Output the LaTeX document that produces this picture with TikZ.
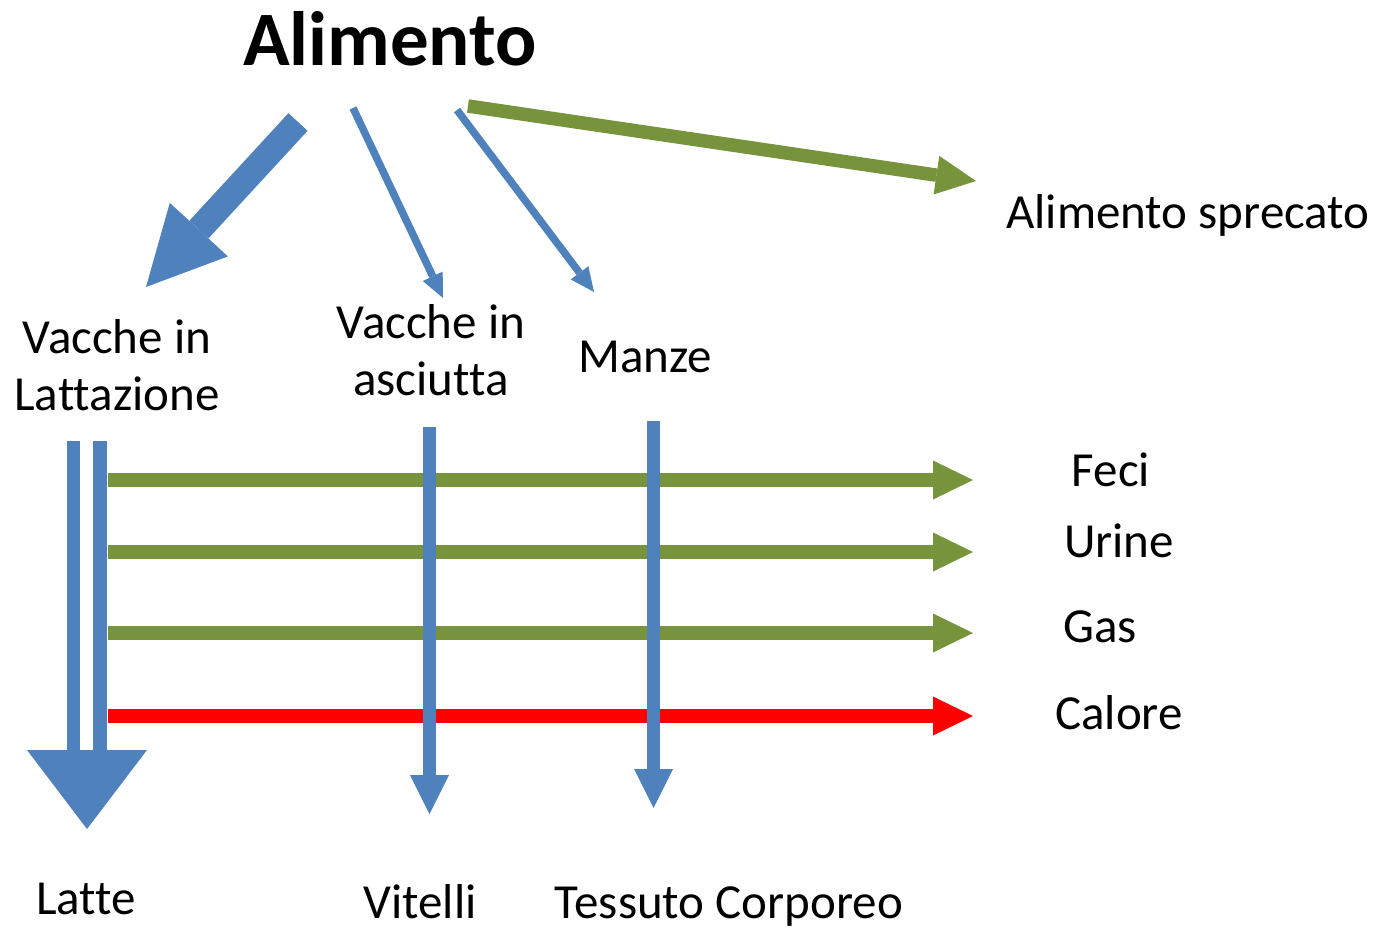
\documentclass[tikz,border=0pt]{standalone}
\usepackage{fontspec}
\setmainfont{Carlito}[Ligatures=CommonOff,Contextuals=AlternateOff]
\usetikzlibrary{arrows.meta}
\definecolor{arrblue}{HTML}{4F81BD}
\definecolor{arrgreen}{HTML}{77933C}
\definecolor{arrred}{HTML}{FF0000}
\begin{document}
\begin{tikzpicture}[x=1pt,y=-1pt,
  lbl/.style={inner sep=0pt, font=\fontsize{49}{57}\selectfont, anchor=base, align=center},
  title/.style={inner sep=0pt, font=\fontsize{77}{90}\selectfont\bfseries, anchor=base},
  thinblue/.style={draw=arrblue, line width=7.5pt, -{Triangle[width=22pt,length=24pt,line width=0pt]}},
  bigblue/.style={draw=arrblue, line width=26pt, -{Triangle[width=79pt,length=78pt,line width=0pt]}},
  vblue/.style={draw=arrblue, line width=13pt, -{Triangle[width=39pt,length=39pt,line width=0pt]}},
  greenarr/.style={draw=arrgreen, line width=13.5pt, -{Triangle[width=39pt,length=40pt,line width=0pt]}},
  redarr/.style={draw=arrred, line width=13.5pt, -{Triangle[width=39pt,length=40pt,line width=0pt]}},
  shaft/.style={draw=arrblue, line width=13.5pt},
]
\useasboundingbox (0,0) rectangle (1375,930);

% labels
\node[title] (alim) at (390,65) {Alimento};
\node[lbl] (spreco) at (1188,228) {Alimento sprecato};
\node[lbl] (latt) at (117,410) {Vacche in\\Lat{}tazione};
\node[lbl] (asc) at (431,395) {Vacche in\\asciut{}ta};
\node[lbl] (manze) at (645,372) {Manze};
\node[lbl] (feci) at (1111,486) {Feci};
\node[lbl] (urine) at (1119,557) {Urine};
\node[lbl] (gas) at (1100,642) {Gas};
\node[lbl] (calore) at (1119,729) {Calore};
\node[lbl] (latte) at (86,914) {Lat{}te};
\node[lbl] (vitelli) at (420,918) {Vitelli};
\node[lbl] (tessuto) at (729,918) {Tessuto Corporeo};

% coordinates
\coordinate (a1s) at (298,122);  \coordinate (a1e) at (146,287);
\coordinate (a2s) at (353,108);  \coordinate (a2e) at (443,298);
\coordinate (a3s) at (457,110);  \coordinate (a3e) at (594,292);
\coordinate (a4s) at (468,106);  \coordinate (a4e) at (976,181);

\coordinate (fs) at (108,480); \coordinate (fe) at (973,480);
\coordinate (us) at (108,552); \coordinate (ue) at (973,552);
\coordinate (gs) at (108,633); \coordinate (ge) at (973,633);
\coordinate (cs) at (108,716); \coordinate (ce) at (973,716);

\coordinate (vs) at (429.5,427); \coordinate (ve) at (429.5,814);
\coordinate (ms) at (653.5,421); \coordinate (me) at (653.5,808);

\coordinate (l1s) at (73.5,441); \coordinate (l1e) at (73.5,751);
\coordinate (l2s) at (100,441);  \coordinate (l2e) at (100,751);
\coordinate (hl) at (27,750); \coordinate (hr) at (147,750); \coordinate (ht) at (87,829);

% arrows from Alimento
\draw[bigblue] (a1s) -- (a1e);
\draw[thinblue] (a2s) -- (a2e);
\draw[thinblue] (a3s) -- (a3e);
\draw[greenarr] (a4s) -- (a4e);

% horizontal outputs
\draw[greenarr] (fs) -- (fe);
\draw[greenarr] (us) -- (ue);
\draw[greenarr] (gs) -- (ge);
\draw[redarr] (cs) -- (ce);

% vertical arrows
\draw[vblue] (vs) -- (ve);
\draw[vblue] (ms) -- (me);

% double arrow to Latte
\draw[shaft] (l1s) -- (l1e);
\draw[shaft] (l2s) -- (l2e);
\fill[arrblue] (hl) -- (hr) -- (ht) -- cycle;
\end{tikzpicture}
\end{document}
